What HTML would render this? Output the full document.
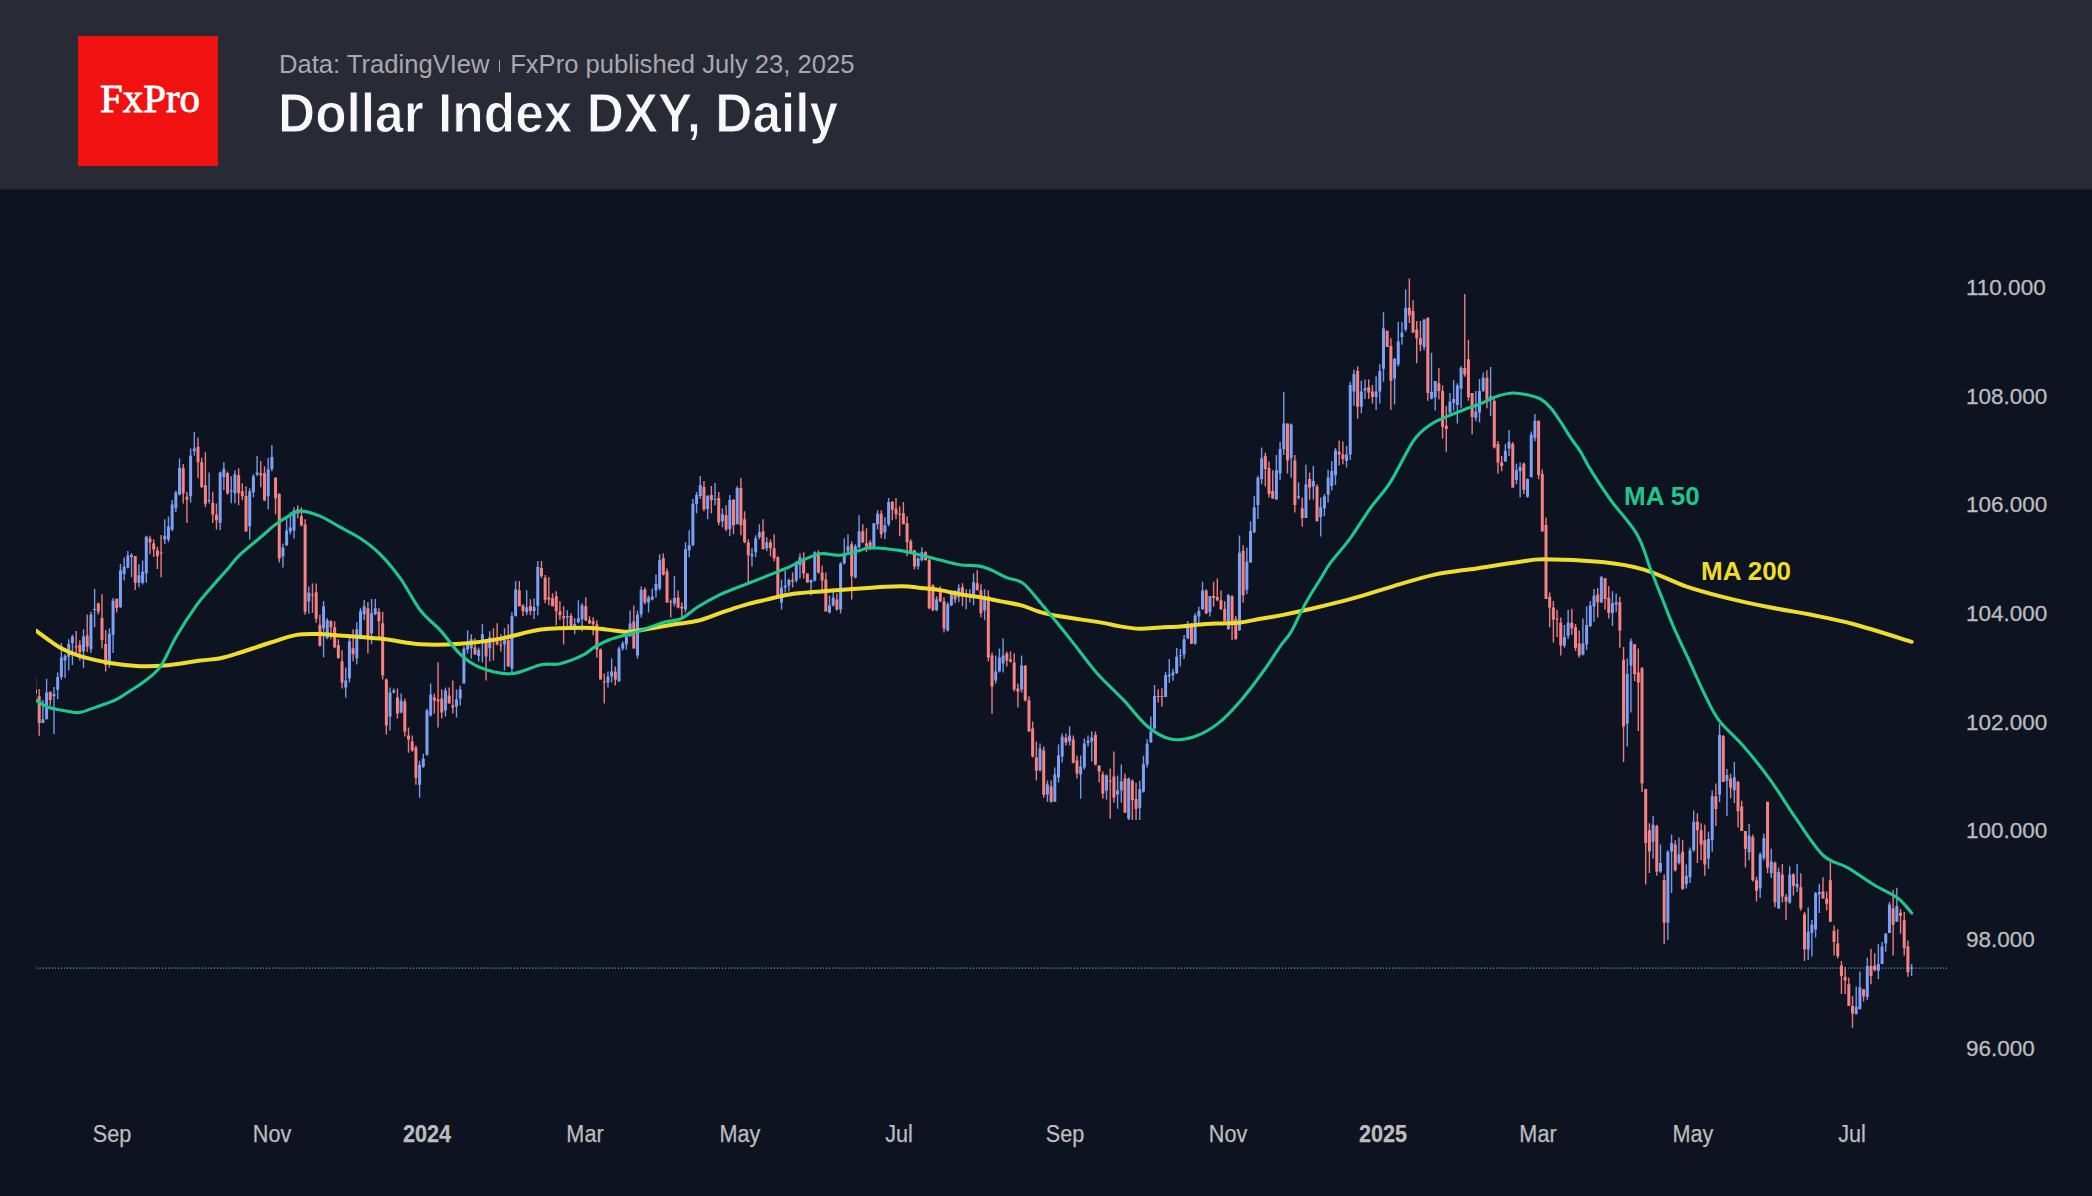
<!DOCTYPE html>
<html><head><meta charset="utf-8"><style>
html,body{margin:0;padding:0;}
body{width:2092px;height:1196px;overflow:hidden;background:#0d1321;position:relative;font-family:"Liberation Sans",sans-serif;}
#hdr{position:absolute;left:0;top:0;width:2092px;height:189px;background:#282a36;border-bottom:1px solid #1b1e2b;}
#logo{position:absolute;left:78px;top:36px;width:140px;height:130px;background:#f21111;}
#logo span{position:absolute;left:2px;width:140px;top:0;line-height:126px;text-align:center;font-family:"Liberation Serif",serif;font-size:39px;color:#fff;-webkit-text-stroke:0.8px #fff;transform:scaleX(1.05);}
#sub{position:absolute;left:279px;top:47px;font-size:25.6px;color:#a9a9ab;white-space:nowrap;line-height:34px;}
#sub i{display:inline-block;width:1.6px;height:12px;background:#a9a9ab;margin:0 10px 0px 9px;vertical-align:1px;}
#ttl{position:absolute;left:278px;top:80px;font-size:55px;font-weight:bold;color:#f8f8f8;white-space:nowrap;line-height:66px;transform:scaleX(0.935);transform-origin:0 0;-webkit-text-stroke:1px #282a36;}
.yl{position:absolute;left:1966px;font-size:22.5px;color:#bcbcbc;line-height:26px;white-space:nowrap;-webkit-text-stroke:0.3px #bcbcbc;}
.xl{position:absolute;top:1120.5px;width:100px;text-align:center;font-size:23.5px;color:#bdbdbd;line-height:26px;transform:scaleX(0.92);-webkit-text-stroke:0.25px #bdbdbd;}
.xl.b{font-weight:bold;}
.ma{position:absolute;font-size:26px;font-weight:bold;line-height:30px;white-space:nowrap;}
</style></head><body>
<div id="hdr"><div id="logo"><span>FxPro</span></div>
<div id="sub">Data: TradingVIew<i></i>FxPro published July 23, 2025</div>
<div id="ttl">Dollar Index DXY, Daily</div></div>
<svg width="2092" height="1006" viewBox="0 190 2092 1006" style="position:absolute;left:0;top:190px">
<defs><clipPath id="cp"><rect x="36" y="190" width="1915" height="900"/></clipPath></defs>
<g clip-path="url(#cp)">
<path d="M36.5,968.2H1948" stroke="#7ba0f4" stroke-width="1.3" stroke-dasharray="1.1 1.96" fill="none" opacity="1"/>
<path d="M42.90,699.9V722.9M46.59,678.8V719.2M53.98,687.1V733.9M57.67,672.4V699.0M61.36,642.9V679.7M65.06,654.0V677.9M68.75,639.3V670.5M72.44,634.7V665.0M83.52,629.2V667.8M90.91,611.7V653.1M94.60,588.7V627.3M109.37,628.2V667.8M113.07,597.9V653.1M120.45,563.9V608.0M124.15,557.5V580.4M127.84,551.0V568.5M131.53,553.3V577.2M138.92,564.3V587.3M142.61,560.6V584.5M146.30,535.8V582.7M164.77,519.3V544.1M168.46,516.5V542.2M172.16,500.0V531.2M175.85,490.8V511.9M179.54,458.6V495.4M190.62,448.5V502.7M194.31,431.9V455.8M209.09,472.4V503.6M220.17,471.5V530.3M223.86,462.3V489.9M231.25,476.2V503.3M234.94,470.2V503.3M249.71,488.2V539.4M253.40,474.2V497.3M257.10,456.1V476.2M268.18,458.1V509.3M271.87,445.1V471.2M282.95,543.4V567.5M286.64,517.3V545.4M290.34,512.3V534.4M294.03,507.3V538.4M308.80,586.6V613.7M323.57,601.1V657.3M327.27,618.2V639.3M345.73,667.4V697.5M349.42,636.3V682.4M356.81,622.2V664.4M360.50,608.2V639.3M364.20,600.1V620.2M371.58,599.1V644.3M375.28,599.1V615.2M390.05,687.4V730.6M393.74,688.4V693.5M401.13,693.5V713.5M419.59,760.7V797.8M423.29,753.7V767.7M426.98,708.5V755.7M430.67,683.5V716.6M445.45,687.5V716.6M456.52,689.5V717.6M460.22,685.5V705.6M463.91,646.4V683.5M467.60,630.3V653.4M471.30,634.3V658.4M478.68,647.4V661.4M482.38,624.3V662.4M489.76,631.3V661.4M504.53,628.3V670.4M511.92,612.2V673.5M515.61,581.1V616.3M526.69,590.2V615.3M534.08,598.6V619.1M537.77,561.1V615.3M567.32,610.2V626.3M574.70,618.3V634.3M578.40,600.2V623.3M582.09,603.2V631.3M607.94,671.4V687.5M611.63,658.4V682.5M619.02,646.4V681.5M622.71,641.3V650.4M626.41,633.3V649.4M630.10,610.5V636.6M637.49,610.5V658.7M641.18,586.4V617.5M648.57,595.5V612.5M652.26,588.4V600.5M655.95,574.4V597.5M659.65,554.3V590.4M674.42,576.0V606.5M685.50,542.3V612.5M689.19,530.2V557.3M692.88,499.1V546.3M696.58,492.1V513.2M700.27,476.1V499.1M707.66,495.1V519.2M715.04,483.1V505.2M722.43,508.2V527.2M729.81,495.1V536.3M737.20,486.1V524.2M751.97,548.3V566.4M755.67,535.3V557.3M759.36,524.2V539.3M766.75,537.3V551.3M781.52,579.4V609.5M785.21,570.4V592.5M788.90,578.4V591.4M796.29,561.3V582.4M799.98,553.3V578.4M811.06,579.4V595.5M814.76,551.3V581.4M829.53,595.5V613.5M833.22,588.4V606.5M840.61,562.3V613.5M844.30,538.3V564.4M847.99,534.3V553.3M855.38,544.3V578.4M859.07,515.2V548.3M873.85,523.2V549.3M877.54,510.2V529.2M884.92,517.2V539.3M888.62,498.1V526.2M918.16,557.3V569.4M921.86,547.3V561.3M936.63,596.3V611.3M947.71,602.3V631.4M951.40,591.2V606.3M958.79,584.2V602.3M966.17,589.2V609.3M973.56,573.2V605.3M984.64,589.2V620.3M995.72,655.5V683.6M999.41,648.4V672.5M1003.10,638.4V672.5M1021.57,655.5V692.6M1040.03,743.5V771.6M1047.42,780.6V801.7M1054.81,767.6V801.7M1058.50,744.5V782.6M1062.19,733.5V762.6M1069.58,726.4V745.5M1080.66,755.5V798.7M1084.35,738.5V769.6M1088.04,735.5V746.5M1091.74,731.4V761.5M1106.51,774.6V799.7M1117.59,775.6V808.7M1121.28,764.6V802.7M1128.67,777.4V820.0M1139.75,780.7V820.0M1143.44,755.7V792.6M1147.13,739.3V767.6M1150.83,716.5V742.6M1154.52,685.0V729.6M1165.60,672.0V697.0M1169.29,658.9V682.8M1172.99,668.7V680.7M1176.68,648.0V674.1M1180.37,649.1V666.5M1184.07,635.0V658.9M1187.76,620.9V639.3M1195.14,613.3V644.8M1198.84,606.7V623.0M1202.53,581.7V610.0M1209.92,595.9V616.5M1228.38,594.1V630.0M1239.46,535.4V631.1M1246.85,547.4V594.1M1250.54,521.3V562.6M1254.23,496.3V533.3M1257.93,475.7V519.1M1261.62,447.4V484.3M1276.39,455.0V499.6M1280.09,442.0V480.0M1283.78,392.0V455.0M1291.17,423.5V477.8M1298.55,482.2V499.6M1305.94,464.8V518.0M1313.32,465.9V499.6M1320.71,497.4V536.5M1324.40,494.1V515.9M1328.10,469.8V502.4M1331.79,461.1V490.4M1335.48,448.0V485.0M1346.56,445.9V467.6M1350.25,381.7V460.0M1353.95,369.8V405.7M1361.33,380.7V413.3M1365.03,379.6V399.1M1376.11,376.3V410.0M1379.80,364.3V403.5M1383.49,312.2V381.7M1394.57,357.8V404.6M1398.27,322.0V366.5M1401.96,322.0V344.8M1405.65,289.3V331.7M1424.12,318.7V350.2M1431.50,352.8V399.6M1435.20,381.1V410.4M1449.97,393.0V414.8M1453.66,380.0V410.4M1457.35,383.3V423.5M1461.05,365.9V408.3M1475.82,390.9V421.3M1479.51,378.9V422.4M1483.21,372.4V392.0M1490.59,367.0V415.9M1505.37,444.1V461.5M1509.06,430.0V456.1M1516.44,463.7V484.3M1520.14,462.6V497.4M1527.52,478.3V497.8M1531.22,431.5V477.2M1534.91,414.1V441.3M1564.45,625.0V647.8M1568.15,609.8V639.1M1582.92,618.5V655.4M1586.61,606.5V650.0M1590.31,601.1V627.2M1594.00,589.1V621.7M1601.39,576.1V603.3M1612.46,591.3V626.1M1616.16,593.5V612.0M1627.24,658.4V746.5M1630.93,638.5V712.4M1653.09,816.1V858.8M1660.48,844.6V873.0M1667.86,850.2V939.8M1671.55,834.6V892.9M1678.94,837.5V864.5M1686.33,864.5V888.6M1690.02,847.4V882.9M1693.71,810.4V851.7M1708.49,831.8V868.7M1712.18,790.6V851.7M1719.56,723.8V801.9M1726.95,769.1V815.9M1734.34,762.0V803.0M1749.11,824.1V860.4M1760.19,852.2V897.8M1763.88,833.5V860.4M1771.27,848.7V877.9M1778.65,867.4V908.4M1789.73,866.2V903.7M1797.12,863.9V892.0M1808.20,907.2V959.9M1811.89,920.1V956.4M1815.59,892.0V937.6M1819.28,883.8V913.1M1856.21,986.4V1014.3M1859.90,971.4V1009.8M1867.29,957.8V1000.0M1878.37,944.3V978.9M1882.06,942.0V963.9M1885.75,933.0V951.8M1889.45,902.1V933.0M1896.83,887.8V921.7M1911.61,963.9V975.9" stroke="#7ba0f4" stroke-width="1.4" fill="none" opacity="0.95"/>
<path d="M35.51,676.9V698.1M39.20,688.9V735.8M50.28,691.7V705.4M76.14,631.0V654.9M79.83,640.2V660.4M87.21,614.4V652.1M98.29,602.5V614.4M101.99,594.2V648.5M105.68,630.1V671.4M116.76,598.8V612.6M135.22,556.0V590.0M150.00,535.8V554.2M153.69,539.5V556.9M157.38,546.8V568.9M161.08,534.9V577.2M183.24,464.1V503.6M186.93,491.7V522.9M198.01,437.5V477.9M201.70,457.7V488.0M205.39,452.2V507.3M212.78,491.7V522.9M216.47,503.6V529.4M227.55,471.5V494.4M238.63,468.2V505.3M242.32,483.2V500.3M246.02,486.2V531.4M260.79,461.1V487.2M264.48,466.2V501.3M275.56,477.2V514.3M279.26,493.2V562.5M297.72,505.3V518.3M301.41,507.3V526.4M305.11,519.3V614.7M312.49,583.6V612.7M316.19,583.6V622.7M319.88,614.7V646.8M330.96,620.2V639.3M334.65,621.2V648.3M338.35,639.3V658.3M342.04,650.3V688.4M353.12,629.2V661.3M367.89,602.1V653.3M378.97,608.2V640.3M382.66,611.8V679.4M386.36,678.4V734.6M397.44,688.4V718.5M404.82,698.5V736.6M408.51,727.6V752.7M412.21,735.6V751.7M415.90,745.6V784.8M434.37,693.5V713.6M438.06,662.4V727.6M441.75,689.5V718.6M449.14,687.5V703.6M452.83,680.5V713.6M474.99,638.3V654.4M486.07,639.3V680.5M493.46,628.3V660.4M497.15,623.3V645.4M500.84,634.3V651.4M508.23,624.3V666.4M519.31,581.1V606.2M523.00,604.2V616.3M530.39,599.2V615.3M541.47,561.1V578.1M545.16,575.1V603.2M548.85,577.1V605.2M552.55,593.2V606.2M556.24,591.2V625.3M559.93,601.2V620.3M563.62,606.2V644.4M571.01,613.2V628.3M585.78,597.2V621.3M589.48,616.3V624.3M593.17,617.3V635.3M596.86,620.3V657.4M600.56,648.4V679.5M604.25,673.5V703.6M615.33,666.4V685.5M633.79,605.5V648.6M644.87,587.4V604.5M663.34,553.3V575.4M667.03,568.4V602.5M670.72,599.5V617.5M678.11,590.4V608.5M681.80,602.5V619.5M703.96,481.1V511.2M711.35,486.1V513.2M718.73,492.1V525.2M726.12,505.2V531.2M733.51,499.1V534.3M740.89,478.1V535.3M744.59,511.2V543.3M748.28,539.3V584.4M763.05,519.2V549.3M770.44,539.3V556.3M774.13,534.3V561.3M777.82,556.3V598.5M792.60,572.4V587.4M803.68,552.3V578.4M807.37,573.4V582.4M818.45,550.3V573.4M822.14,565.4V593.5M825.83,572.4V611.5M836.91,593.5V610.5M851.69,541.3V599.5M862.77,524.2V543.3M866.46,528.2V552.3M870.15,540.3V550.3M881.23,510.2V538.3M892.31,501.1V520.2M896.00,498.1V519.2M899.70,506.2V536.3M903.39,502.1V524.2M907.08,516.2V556.3M910.78,539.3V553.3M914.47,550.3V569.4M925.55,551.3V560.3M929.24,559.1V609.3M932.93,584.2V611.3M940.32,586.2V602.3M944.01,597.3V632.4M955.09,590.2V603.3M962.48,583.2V606.3M969.87,589.2V602.3M977.25,570.2V590.2M980.94,584.2V617.3M988.33,590.2V661.5M992.02,652.5V713.7M1006.80,651.4V666.5M1010.49,651.4V662.5M1014.18,653.5V691.6M1017.88,683.6V707.6M1025.26,665.5V701.6M1028.96,696.3V731.4M1032.65,721.4V757.5M1036.34,741.5V780.6M1043.73,746.5V797.7M1051.11,780.6V802.7M1065.89,733.5V745.5M1073.27,735.5V763.6M1076.97,755.5V778.6M1095.43,731.4V765.6M1099.12,765.6V782.6M1102.82,771.6V798.7M1110.20,768.6V818.7M1113.90,751.5V802.7M1124.98,773.6V812.7M1132.36,779.6V820.0M1136.06,782.8V820.0M1158.21,689.3V702.4M1161.91,688.3V706.7M1191.45,623.0V643.7M1206.22,589.3V614.3M1213.61,581.7V606.7M1217.30,578.5V601.3M1221.00,590.4V610.0M1224.69,601.3V620.9M1232.08,595.2V640.0M1235.77,615.9V640.0M1243.15,545.2V602.8M1265.31,452.8V486.5M1269.01,461.5V497.4M1272.70,470.2V498.5M1287.47,423.5V473.5M1294.86,455.0V512.6M1302.24,497.4V526.7M1309.63,472.4V499.6M1317.02,484.3V521.3M1339.18,440.4V465.4M1342.87,441.5V464.3M1357.64,366.5V418.7M1368.72,379.6V399.1M1372.41,385.0V403.5M1387.19,330.7V347.0M1390.88,338.3V410.0M1409.34,278.5V323.0M1413.04,300.2V332.8M1416.73,320.9V363.3M1420.42,320.9V351.3M1427.81,317.0V400.7M1438.89,368.0V399.6M1442.58,385.4V438.7M1446.28,406.1V451.7M1464.74,294.1V376.7M1468.43,339.8V400.7M1472.13,393.0V434.3M1486.90,370.2V408.3M1494.29,396.3V448.5M1497.98,440.9V473.5M1501.67,456.1V471.3M1512.75,442.0V487.6M1523.83,462.6V494.1M1538.60,420.7V479.3M1542.30,469.6V531.5M1545.99,517.4V598.9M1549.68,592.4V627.2M1553.38,601.1V642.4M1557.07,609.8V637.0M1560.76,617.4V655.4M1571.84,608.7V634.8M1575.53,623.9V651.1M1579.23,630.4V657.6M1597.69,588.0V617.4M1605.08,578.3V609.8M1608.77,585.9V618.5M1619.85,596.7V647.8M1623.54,647.0V762.1M1634.62,644.2V681.1M1638.32,648.4V730.9M1642.01,666.9V792.0M1645.70,789.1V884.4M1649.40,823.2V873.0M1656.78,824.7V875.8M1664.17,874.4V944.0M1675.25,840.3V871.6M1682.63,840.3V890.0M1697.41,813.3V863.0M1701.10,823.2V860.2M1704.79,824.7V875.8M1715.87,783.4V826.1M1723.26,735.1V781.9M1730.64,773.8V798.3M1738.03,780.8V827.6M1741.72,800.7V831.1M1745.42,831.1V867.4M1752.80,834.6V881.5M1756.50,876.8V901.4M1767.58,801.8V873.3M1774.96,861.6V907.2M1782.35,863.9V902.5M1786.04,894.3V920.1M1793.43,873.3V895.5M1800.81,873.3V910.7M1804.51,911.9V961.1M1822.97,877.3V898.4M1826.66,891.6V910.4M1830.36,862.3V921.7M1834.05,925.5V955.6M1837.74,929.2V958.6M1841.44,960.9V994.0M1845.13,966.9V994.0M1848.82,977.4V1006.0M1852.52,996.2V1027.8M1863.60,988.7V1001.5M1870.98,948.8V984.2M1874.68,953.3V971.4M1893.14,890.1V955.6M1900.53,908.9V933.8M1904.22,911.9V955.6M1907.91,940.5V976.7" stroke="#f88282" stroke-width="1.4" fill="none" opacity="0.95"/>
<path d="M41.40,719.2h3v3.7h-3zM45.09,692.6h3v26.7h-3zM52.48,694.0h3v2.2h-3zM56.17,676.9h3v12.9h-3zM59.86,657.6h3v19.3h-3zM63.56,655.8h3v4.6h-3zM67.25,643.9h3v12.9h-3zM70.94,636.5h3v6.4h-3zM82.02,636.5h3v14.7h-3zM89.41,614.4h3v34.9h-3zM93.10,608.9h3v1.0h-3zM107.87,633.8h3v29.4h-3zM111.57,600.7h3v34.0h-3zM118.95,570.3h3v36.8h-3zM122.65,566.7h3v7.4h-3zM126.34,555.6h3v11.9h-3zM130.03,555.1h3v1.8h-3zM137.42,575.3h3v7.4h-3zM141.11,571.7h3v11.0h-3zM144.80,536.7h3v36.8h-3zM163.27,535.8h3v3.7h-3zM166.96,526.6h3v12.9h-3zM170.66,504.6h3v24.8h-3zM174.35,492.6h3v15.6h-3zM178.04,467.8h3v26.7h-3zM189.12,455.8h3v40.4h-3zM192.81,448.5h3v2.8h-3zM207.59,500.0h3v1.0h-3zM218.67,472.4h3v50.6h-3zM222.36,468.7h3v8.3h-3zM229.75,490.2h3v1.4h-3zM233.44,474.2h3v19.1h-3zM248.21,491.2h3v35.1h-3zM251.90,476.2h3v16.1h-3zM255.60,472.6h3v2.0h-3zM266.68,469.2h3v27.1h-3zM270.37,457.1h3v12.0h-3zM281.45,547.4h3v9.0h-3zM285.14,530.4h3v15.1h-3zM288.84,527.4h3v4.0h-3zM292.53,510.3h3v20.1h-3zM307.30,592.6h3v9.0h-3zM322.07,606.2h3v22.1h-3zM325.77,620.2h3v18.1h-3zM344.23,680.4h3v7.0h-3zM347.92,641.3h3v37.1h-3zM355.31,629.2h3v29.1h-3zM359.00,611.2h3v27.1h-3zM362.70,606.2h3v8.0h-3zM370.08,613.2h3v20.1h-3zM373.78,608.2h3v6.0h-3zM388.55,692.5h3v24.1h-3zM392.24,690.4h3v2.0h-3zM399.63,700.5h3v12.0h-3zM418.09,764.7h3v20.1h-3zM421.79,758.7h3v8.0h-3zM425.48,710.5h3v44.2h-3zM429.17,694.5h3v21.1h-3zM443.95,690.5h3v20.1h-3zM455.02,699.5h3v7.0h-3zM458.72,689.5h3v9.0h-3zM462.41,648.4h3v35.1h-3zM466.10,643.4h3v6.0h-3zM469.80,639.3h3v9.0h-3zM477.18,650.0h3v6.0h-3zM480.88,634.3h3v9.0h-3zM488.26,637.3h3v11.0h-3zM503.03,640.3h3v4.0h-3zM510.42,616.3h3v52.2h-3zM514.11,589.2h3v27.1h-3zM525.19,607.2h3v5.0h-3zM532.58,607.0h3v4.0h-3zM536.27,567.1h3v38.7h-3zM565.82,615.9h3v1.4h-3zM573.20,623.9h3v2.8h-3zM576.90,618.3h3v4.0h-3zM580.59,605.2h3v14.0h-3zM606.44,676.5h3v6.0h-3zM610.13,671.4h3v5.0h-3zM617.52,648.4h3v33.1h-3zM621.21,643.4h3v5.0h-3zM624.91,636.3h3v8.0h-3zM628.60,623.6h3v13.0h-3zM635.99,614.5h3v41.1h-3zM639.68,590.0h3v24.5h-3zM647.07,597.5h3v5.0h-3zM650.76,596.5h3v3.0h-3zM654.45,584.0h3v6.4h-3zM658.15,560.3h3v28.1h-3zM672.92,598.1h3v5.4h-3zM684.00,549.3h3v60.2h-3zM687.69,545.3h3v5.0h-3zM691.38,503.7h3v41.5h-3zM695.08,495.1h3v9.0h-3zM698.77,485.1h3v11.0h-3zM706.16,496.1h3v13.0h-3zM713.54,499.1h3v1.0h-3zM720.93,514.2h3v7.0h-3zM728.31,500.1h3v29.1h-3zM735.70,488.1h3v36.1h-3zM750.47,554.3h3v2.0h-3zM754.17,538.3h3v14.0h-3zM757.86,532.2h3v5.0h-3zM765.25,542.3h3v6.0h-3zM780.02,587.4h3v15.1h-3zM783.71,585.4h3v2.0h-3zM787.40,580.0h3v5.4h-3zM794.79,563.4h3v17.1h-3zM798.48,557.3h3v8.0h-3zM809.56,580.0h3v2.4h-3zM813.26,552.3h3v28.1h-3zM828.03,605.5h3v7.0h-3zM831.72,597.5h3v8.0h-3zM839.11,563.4h3v46.2h-3zM842.80,553.3h3v10.0h-3zM846.49,546.3h3v5.0h-3zM853.88,546.3h3v31.1h-3zM857.57,531.2h3v16.1h-3zM872.35,523.2h3v26.1h-3zM876.04,513.8h3v10.4h-3zM883.42,525.2h3v7.0h-3zM887.12,502.1h3v22.1h-3zM916.66,558.3h3v8.0h-3zM920.36,552.3h3v8.0h-3zM935.13,599.3h3v11.0h-3zM946.21,604.3h3v26.1h-3zM949.90,593.2h3v12.0h-3zM957.29,588.2h3v9.0h-3zM964.67,593.2h3v3.0h-3zM972.06,582.2h3v14.0h-3zM983.14,596.3h3v14.0h-3zM994.22,671.5h3v9.0h-3zM997.91,657.5h3v14.0h-3zM1001.60,655.5h3v8.0h-3zM1020.07,665.5h3v24.1h-3zM1038.53,748.5h3v22.1h-3zM1045.92,784.6h3v10.0h-3zM1053.31,774.6h3v27.1h-3zM1057.00,755.5h3v22.1h-3zM1060.69,736.5h3v20.1h-3zM1068.08,735.5h3v6.0h-3zM1079.16,766.6h3v8.0h-3zM1082.85,743.5h3v24.1h-3zM1086.54,740.5h3v2.4h-3zM1090.24,737.5h3v4.0h-3zM1105.01,775.6h3v15.1h-3zM1116.09,790.6h3v4.0h-3zM1119.78,781.6h3v9.0h-3zM1127.17,778.5h3v40.2h-3zM1138.25,789.3h3v18.5h-3zM1141.94,764.3h3v27.2h-3zM1145.63,743.7h3v20.7h-3zM1149.33,731.7h3v10.9h-3zM1153.02,695.9h3v32.6h-3zM1164.10,675.2h3v21.7h-3zM1167.79,674.8h3v1.5h-3zM1171.49,672.6h3v2.6h-3zM1175.18,656.7h3v16.3h-3zM1178.87,655.2h3v1.0h-3zM1182.57,639.3h3v15.2h-3zM1186.26,626.3h3v12.0h-3zM1193.64,615.4h3v28.3h-3zM1197.34,611.1h3v5.4h-3zM1201.03,590.4h3v18.5h-3zM1208.42,595.9h3v16.3h-3zM1226.88,595.2h3v33.7h-3zM1237.96,552.8h3v77.2h-3zM1245.35,561.5h3v28.3h-3zM1249.04,531.1h3v31.5h-3zM1252.73,507.2h3v25.0h-3zM1256.43,477.8h3v27.2h-3zM1260.12,458.3h3v20.7h-3zM1274.89,470.2h3v29.3h-3zM1278.59,449.1h3v24.3h-3zM1282.28,423.5h3v25.7h-3zM1289.67,424.6h3v33.7h-3zM1297.05,496.3h3v1.1h-3zM1304.44,484.3h3v33.7h-3zM1311.82,481.1h3v5.4h-3zM1319.21,507.2h3v9.8h-3zM1322.90,496.3h3v12.0h-3zM1326.60,477.4h3v17.4h-3zM1330.29,470.9h3v15.2h-3zM1333.98,450.2h3v25.0h-3zM1345.06,454.6h3v6.5h-3zM1348.75,385.0h3v69.6h-3zM1352.45,374.1h3v17.4h-3zM1359.83,391.5h3v15.2h-3zM1363.53,388.3h3v2.2h-3zM1374.61,391.5h3v5.4h-3zM1378.30,370.9h3v20.7h-3zM1381.99,328.5h3v40.2h-3zM1393.07,358.9h3v19.6h-3zM1396.77,341.5h3v22.8h-3zM1400.46,332.8h3v4.3h-3zM1404.15,307.8h3v21.7h-3zM1422.62,319.8h3v27.2h-3zM1430.00,392.0h3v6.5h-3zM1433.70,381.1h3v16.3h-3zM1448.47,401.7h3v10.9h-3zM1452.16,399.1h3v3.7h-3zM1455.85,385.4h3v19.6h-3zM1459.55,368.0h3v20.7h-3zM1474.32,411.5h3v6.5h-3zM1478.01,390.9h3v21.7h-3zM1481.71,377.8h3v13.0h-3zM1489.09,396.3h3v2.2h-3zM1503.87,450.7h3v10.9h-3zM1507.56,442.0h3v6.5h-3zM1514.94,470.2h3v9.8h-3zM1518.64,467.0h3v4.3h-3zM1526.02,479.3h3v17.4h-3zM1529.72,434.8h3v42.4h-3zM1533.41,420.7h3v17.4h-3zM1562.95,637.0h3v8.7h-3zM1566.65,622.8h3v13.0h-3zM1581.42,643.5h3v10.9h-3zM1585.11,625.0h3v19.6h-3zM1588.81,605.4h3v20.7h-3zM1592.50,595.7h3v10.9h-3zM1599.89,577.2h3v25.0h-3zM1610.96,603.3h3v9.8h-3zM1614.66,602.2h3v2.2h-3zM1625.74,674.0h3v49.7h-3zM1629.43,641.3h3v24.2h-3zM1651.59,824.7h3v17.1h-3zM1658.98,863.0h3v8.5h-3zM1666.36,851.7h3v71.1h-3zM1670.05,843.1h3v8.5h-3zM1677.44,854.5h3v8.5h-3zM1684.83,875.8h3v8.5h-3zM1688.52,850.2h3v27.0h-3zM1692.21,821.8h3v28.4h-3zM1706.99,838.9h3v19.9h-3zM1710.68,796.2h3v44.1h-3zM1718.06,735.1h3v59.7h-3zM1725.45,774.9h3v5.9h-3zM1732.84,777.3h3v12.9h-3zM1747.61,835.8h3v16.4h-3zM1758.69,854.5h3v33.9h-3zM1762.38,838.1h3v19.9h-3zM1769.77,861.6h3v11.7h-3zM1777.15,872.1h3v36.3h-3zM1788.23,874.4h3v28.1h-3zM1795.62,883.8h3v3.5h-3zM1806.70,931.8h3v17.6h-3zM1810.39,924.8h3v8.2h-3zM1814.09,893.2h3v36.3h-3zM1817.78,892.0h3v2.3h-3zM1854.71,1006.8h3v7.5h-3zM1858.40,987.2h3v21.8h-3zM1865.79,966.1h3v30.9h-3zM1876.87,963.9h3v6.8h-3zM1880.56,946.6h3v17.3h-3zM1884.25,933.8h3v9.8h-3zM1887.95,904.4h3v28.6h-3zM1895.33,905.9h3v15.8h-3zM1910.11,967.6h3v1.0h-3z" fill="#7ba0f4"/>
<path d="M34.01,689.8h3v3.7h-3zM37.70,696.2h3v26.7h-3zM48.78,691.7h3v8.3h-3zM74.64,646.2h3v1.3h-3zM78.33,644.8h3v7.4h-3zM85.71,635.6h3v11.0h-3zM96.79,603.4h3v8.3h-3zM100.49,618.1h3v22.1h-3zM104.18,643.9h3v21.1h-3zM115.26,598.8h3v9.2h-3zM133.72,556.0h3v26.7h-3zM148.50,538.6h3v3.7h-3zM152.19,543.5h3v6.1h-3zM155.88,550.5h3v5.5h-3zM159.58,552.4h3v1.0h-3zM181.74,468.2h3v25.4h-3zM185.43,496.8h3v2.6h-3zM196.51,446.7h3v15.6h-3zM200.20,462.3h3v24.8h-3zM203.89,485.3h3v18.4h-3zM211.28,502.7h3v11.9h-3zM214.97,514.7h3v5.5h-3zM226.05,473.3h3v20.2h-3zM237.13,475.2h3v18.1h-3zM240.82,491.2h3v5.0h-3zM244.52,495.9h3v35.5h-3zM259.29,473.2h3v2.0h-3zM262.98,473.2h3v27.1h-3zM274.06,477.8h3v20.5h-3zM277.76,493.9h3v64.6h-3zM296.22,509.3h3v4.0h-3zM299.91,516.3h3v9.0h-3zM303.61,524.4h3v87.3h-3zM310.99,594.6h3v1.0h-3zM314.69,592.2h3v26.5h-3zM318.38,624.7h3v21.1h-3zM329.46,621.2h3v6.0h-3zM333.15,627.2h3v20.1h-3zM336.85,645.3h3v13.0h-3zM340.54,661.3h3v21.1h-3zM351.62,648.3h3v6.0h-3zM366.39,608.2h3v30.1h-3zM377.47,611.8h3v9.4h-3zM381.16,623.2h3v52.2h-3zM384.86,679.4h3v46.2h-3zM395.94,697.5h3v16.1h-3zM403.32,701.5h3v30.1h-3zM407.01,735.6h3v4.0h-3zM410.71,741.6h3v9.0h-3zM414.40,747.6h3v30.1h-3zM432.87,697.5h3v3.0h-3zM436.56,699.5h3v2.0h-3zM440.25,698.5h3v14.0h-3zM447.64,695.5h3v8.0h-3zM451.33,705.6h3v2.0h-3zM473.49,647.4h3v7.0h-3zM484.57,639.3h3v17.1h-3zM491.96,638.3h3v4.0h-3zM495.65,641.3h3v3.0h-3zM499.34,644.4h3v1.0h-3zM506.73,640.3h3v26.1h-3zM517.81,590.2h3v16.1h-3zM521.50,605.2h3v6.0h-3zM528.89,606.0h3v5.0h-3zM539.97,568.1h3v8.0h-3zM543.66,577.7h3v22.1h-3zM547.35,597.6h3v2.0h-3zM551.05,598.2h3v8.0h-3zM554.74,596.2h3v15.1h-3zM558.43,611.2h3v4.0h-3zM562.12,616.3h3v2.0h-3zM569.51,615.9h3v10.4h-3zM584.28,606.2h3v14.0h-3zM587.98,619.9h3v3.4h-3zM591.67,621.3h3v3.0h-3zM595.36,624.3h3v25.1h-3zM599.06,649.4h3v30.1h-3zM602.75,681.5h3v1.0h-3zM613.83,671.4h3v8.0h-3zM632.29,621.5h3v27.1h-3zM643.37,589.4h3v13.0h-3zM661.84,558.3h3v16.1h-3zM665.53,571.4h3v31.1h-3zM669.22,601.5h3v1.0h-3zM676.61,597.5h3v10.0h-3zM680.30,606.5h3v2.0h-3zM702.46,487.1h3v22.1h-3zM709.85,495.1h3v5.0h-3zM717.23,498.1h3v24.1h-3zM724.62,515.2h3v14.0h-3zM732.01,500.1h3v25.1h-3zM739.39,488.1h3v37.1h-3zM743.09,519.2h3v23.1h-3zM746.78,542.3h3v13.0h-3zM761.55,531.2h3v18.1h-3zM768.94,542.3h3v6.0h-3zM772.63,548.3h3v10.0h-3zM776.32,557.3h3v41.1h-3zM791.10,580.0h3v1.4h-3zM802.18,558.3h3v15.1h-3zM805.87,573.4h3v9.0h-3zM816.95,552.3h3v20.1h-3zM820.64,572.4h3v8.0h-3zM824.33,579.4h3v32.1h-3zM835.41,599.5h3v10.0h-3zM850.19,544.3h3v32.1h-3zM861.27,531.2h3v11.0h-3zM864.96,543.3h3v3.0h-3zM868.65,542.3h3v6.0h-3zM879.73,513.8h3v20.5h-3zM890.81,502.1h3v7.6h-3zM894.50,508.8h3v5.4h-3zM898.20,513.8h3v1.0h-3zM901.89,513.2h3v11.0h-3zM905.58,523.2h3v19.1h-3zM909.28,541.3h3v12.0h-3zM912.97,550.3h3v16.1h-3zM924.05,552.3h3v8.0h-3zM927.74,560.1h3v48.2h-3zM931.43,585.2h3v25.1h-3zM938.82,592.2h3v9.0h-3zM942.51,601.3h3v27.1h-3zM953.59,591.2h3v8.0h-3zM960.98,587.2h3v9.0h-3zM968.37,594.3h3v2.0h-3zM975.75,583.2h3v7.0h-3zM979.44,590.2h3v23.1h-3zM986.83,596.3h3v61.2h-3zM990.52,655.5h3v31.1h-3zM1005.30,653.5h3v7.0h-3zM1008.99,659.5h3v2.0h-3zM1012.68,662.5h3v27.1h-3zM1016.38,688.6h3v3.0h-3zM1023.76,665.5h3v35.1h-3zM1027.46,700.3h3v31.1h-3zM1031.15,728.4h3v28.1h-3zM1034.84,757.5h3v13.0h-3zM1042.23,750.5h3v44.2h-3zM1049.61,786.6h3v15.1h-3zM1064.39,737.5h3v5.0h-3zM1071.77,739.5h3v23.1h-3zM1075.47,760.5h3v13.0h-3zM1093.93,734.9h3v29.7h-3zM1097.62,765.6h3v6.0h-3zM1101.32,774.6h3v19.1h-3zM1108.70,780.6h3v1.0h-3zM1112.40,776.6h3v21.1h-3zM1123.48,778.6h3v34.1h-3zM1130.86,780.7h3v19.6h-3zM1134.56,799.1h3v9.8h-3zM1156.71,695.9h3v1.1h-3zM1160.41,695.9h3v1.1h-3zM1189.95,624.1h3v19.6h-3zM1204.72,590.4h3v22.8h-3zM1212.11,595.9h3v2.2h-3zM1215.80,597.0h3v3.3h-3zM1219.50,600.2h3v8.7h-3zM1223.19,608.9h3v12.0h-3zM1230.58,596.3h3v27.2h-3zM1234.27,619.1h3v19.6h-3zM1241.65,550.7h3v44.6h-3zM1263.81,456.1h3v13.0h-3zM1267.51,468.0h3v26.1h-3zM1271.20,490.9h3v7.6h-3zM1285.97,423.5h3v37.0h-3zM1293.36,460.4h3v44.6h-3zM1300.74,508.3h3v9.8h-3zM1308.13,478.9h3v8.7h-3zM1315.52,486.5h3v34.8h-3zM1337.68,451.7h3v2.8h-3zM1341.37,454.6h3v4.3h-3zM1356.14,370.9h3v35.9h-3zM1367.22,387.2h3v5.4h-3zM1370.91,391.5h3v5.4h-3zM1385.69,330.7h3v16.3h-3zM1389.38,345.9h3v34.8h-3zM1407.84,307.8h3v7.6h-3zM1411.54,311.1h3v21.7h-3zM1415.23,329.6h3v8.7h-3zM1418.92,338.3h3v6.5h-3zM1426.31,318.0h3v75.0h-3zM1437.39,383.3h3v7.6h-3zM1441.08,390.9h3v35.9h-3zM1444.78,425.7h3v3.3h-3zM1463.24,368.0h3v6.5h-3zM1466.93,359.3h3v38.0h-3zM1470.63,393.0h3v23.9h-3zM1485.40,377.8h3v22.8h-3zM1492.79,400.7h3v46.7h-3zM1496.48,444.1h3v18.5h-3zM1500.17,462.6h3v3.3h-3zM1511.25,444.1h3v43.5h-3zM1522.33,463.7h3v26.1h-3zM1537.10,420.7h3v54.3h-3zM1540.80,473.9h3v57.6h-3zM1544.49,525.0h3v73.9h-3zM1548.18,596.7h3v10.9h-3zM1551.88,607.6h3v12.0h-3zM1555.57,618.5h3v1.1h-3zM1559.26,622.8h3v22.8h-3zM1570.34,622.8h3v5.4h-3zM1574.03,627.2h3v20.7h-3zM1577.73,643.5h3v12.0h-3zM1596.19,594.6h3v7.6h-3zM1603.58,578.3h3v20.7h-3zM1607.27,597.8h3v15.2h-3zM1618.35,602.2h3v28.3h-3zM1622.04,659.8h3v66.8h-3zM1633.12,644.2h3v29.8h-3zM1636.82,672.6h3v9.9h-3zM1640.51,668.3h3v115.1h-3zM1644.20,789.1h3v54.0h-3zM1647.90,830.3h3v21.3h-3zM1655.28,826.1h3v45.5h-3zM1662.67,880.1h3v42.6h-3zM1673.75,844.6h3v25.6h-3zM1681.13,851.7h3v37.0h-3zM1695.91,821.8h3v8.5h-3zM1699.60,830.3h3v14.2h-3zM1703.29,840.3h3v24.2h-3zM1714.37,796.2h3v12.8h-3zM1721.76,736.3h3v45.7h-3zM1729.14,778.4h3v9.4h-3zM1736.53,781.9h3v29.3h-3zM1740.22,806.5h3v24.6h-3zM1743.92,831.1h3v17.6h-3zM1751.30,837.0h3v43.3h-3zM1755.00,880.3h3v10.5h-3zM1766.08,801.8h3v65.6h-3zM1773.46,862.7h3v39.8h-3zM1780.85,874.4h3v22.2h-3zM1784.54,896.7h3v4.7h-3zM1791.93,874.4h3v11.7h-3zM1799.31,887.3h3v21.1h-3zM1803.01,914.2h3v35.1h-3zM1821.47,891.6h3v6.8h-3zM1825.16,898.4h3v5.3h-3zM1828.86,880.3h3v41.4h-3zM1832.55,930.8h3v11.3h-3zM1836.24,943.5h3v12.8h-3zM1839.94,965.4h3v10.5h-3zM1843.63,976.7h3v3.8h-3zM1847.32,984.2h3v21.8h-3zM1851.02,1006.0h3v7.5h-3zM1862.10,989.5h3v6.8h-3zM1869.48,966.1h3v9.8h-3zM1873.18,965.4h3v4.5h-3zM1891.64,908.2h3v16.6h-3zM1899.03,912.7h3v3.0h-3zM1902.72,920.2h3v27.8h-3zM1906.41,946.6h3v25.6h-3z" fill="#f88282"/>
<path d="M35.6,630.4 C39.6,633.2 52.4,643.2 59.8,647.5 C67.2,651.8 71.6,653.6 80.0,656.2 C88.4,658.8 100.1,661.3 110.1,663.0 C120.1,664.7 131.2,665.8 140.2,666.2 C149.2,666.6 154.3,666.5 164.3,665.6 C174.3,664.7 191.0,661.8 200.4,660.6 C209.8,659.4 213.8,659.6 220.5,658.2 C227.2,656.9 232.2,655.1 240.5,652.5 C248.8,649.9 261.2,645.4 270.6,642.5 C280.0,639.6 288.5,636.3 296.7,634.9 C304.9,633.5 312.8,634.0 320.0,634.1 C327.2,634.2 330.1,634.9 340.2,635.6 C350.2,636.4 366.9,637.2 380.3,638.6 C393.7,640.0 407.1,643.4 420.5,644.3 C433.9,645.1 447.2,644.7 460.6,643.7 C474.0,642.8 487.4,641.0 500.8,638.6 C514.2,636.2 527.3,631.4 541.0,629.6 C554.7,627.8 572.1,627.7 582.9,627.7 C593.7,627.7 598.2,628.7 605.9,629.4 C613.5,630.1 621.1,631.9 628.8,631.7 C636.4,631.5 644.1,629.5 651.8,628.3 C659.4,627.0 667.1,625.5 674.7,624.2 C682.4,623.0 690.1,622.7 697.7,620.8 C705.4,618.9 713.0,615.4 720.6,612.8 C728.2,610.2 735.9,607.5 743.5,605.3 C751.1,603.1 758.9,601.4 766.5,599.6 C774.1,597.8 780.4,595.8 789.4,594.4 C798.4,593.0 808.6,592.4 820.5,591.4 C832.4,590.4 847.2,589.2 860.6,588.4 C874.0,587.5 890.8,586.4 900.8,586.3 C910.8,586.2 914.2,587.3 920.9,588.0 C927.6,588.7 934.3,589.3 941.0,590.4 C947.7,591.5 954.3,593.2 961.0,594.4 C967.7,595.6 974.4,596.2 981.1,597.4 C987.8,598.6 994.5,600.1 1001.2,601.4 C1007.9,602.7 1014.6,603.6 1021.3,605.4 C1028.0,607.2 1034.7,610.5 1041.4,612.4 C1048.1,614.2 1051.6,614.8 1061.4,616.5 C1071.2,618.2 1090.2,620.8 1100.0,622.4 C1109.8,624.0 1113.4,625.3 1120.1,626.4 C1126.8,627.5 1133.5,628.6 1140.2,628.8 C1146.9,629.0 1153.5,627.8 1160.2,627.4 C1166.9,627.0 1173.6,626.9 1180.3,626.4 C1187.0,625.9 1193.7,624.9 1200.4,624.4 C1207.1,623.9 1213.8,623.7 1220.5,623.4 C1227.2,623.1 1233.9,623.2 1240.6,622.4 C1247.3,621.6 1253.9,620.0 1260.6,618.8 C1267.3,617.6 1272.6,617.0 1280.7,615.4 C1288.8,613.8 1297.5,612.0 1309.2,609.3 C1320.9,606.5 1337.0,602.7 1351.0,598.9 C1365.0,595.1 1379.0,590.3 1392.9,586.3 C1406.9,582.2 1420.8,577.6 1434.7,574.6 C1448.7,571.6 1462.6,570.5 1476.6,568.4 C1490.5,566.3 1507.2,563.6 1518.4,562.1 C1529.6,560.6 1529.5,559.2 1543.5,559.2 C1557.5,559.2 1585.4,560.4 1602.1,562.1 C1618.8,563.8 1630.0,565.6 1643.9,569.6 C1657.9,573.6 1671.8,581.5 1685.8,586.3 C1699.8,591.0 1713.6,594.6 1727.6,598.1 C1741.5,601.6 1755.5,604.5 1769.5,607.3 C1783.5,610.1 1797.4,612.0 1811.3,614.8 C1825.2,617.6 1836.4,619.5 1853.1,624.0 C1869.8,628.5 1901.9,638.8 1911.7,641.8" stroke="#efdc2c" stroke-width="4" fill="none" stroke-linecap="round" stroke-linejoin="round"/>
<path d="M35.6,700.1 C37.7,701.3 43.0,705.3 48.4,707.2 C53.8,709.1 63.0,710.5 68.3,711.4 C73.6,712.3 74.7,713.3 80.0,712.4 C85.3,711.5 94.1,707.8 100.1,705.7 C106.1,703.6 111.1,702.2 116.1,699.7 C121.1,697.2 125.5,693.7 130.2,690.7 C134.9,687.7 139.2,685.5 144.2,681.5 C149.2,677.5 155.0,674.1 160.3,666.6 C165.7,659.1 170.3,646.7 176.3,636.5 C182.3,626.3 190.7,613.4 196.4,605.4 C202.1,597.4 205.4,594.4 210.4,588.5 C215.4,582.6 221.5,576.0 226.5,570.3 C231.5,564.6 234.8,559.7 240.5,554.2 C246.2,548.7 254.9,542.1 260.6,537.2 C266.3,532.4 270.4,528.5 274.7,525.1 C279.0,521.8 282.5,519.4 286.7,517.1 C290.9,514.8 294.4,511.3 300.0,511.1 C305.6,510.9 313.4,513.4 320.1,516.1 C326.8,518.8 333.5,523.5 340.2,527.2 C346.9,530.9 353.5,533.7 360.2,538.2 C366.9,542.7 373.6,547.6 380.3,554.3 C387.0,561.0 393.7,569.0 400.4,578.4 C407.1,587.8 413.8,601.8 420.5,610.5 C427.2,619.2 433.9,623.2 440.6,630.6 C447.3,638.0 453.9,648.5 460.6,654.7 C467.3,660.9 472.3,664.6 480.7,667.8 C489.1,671.0 500.8,674.3 510.8,673.8 C520.9,673.3 532.8,666.4 541.0,664.7 C549.2,663.0 553.0,665.4 560.0,663.8 C567.0,662.2 577.2,658.0 582.9,655.2 C588.6,652.4 590.0,649.8 594.4,647.2 C598.8,644.6 603.6,641.9 609.3,639.7 C615.0,637.5 623.6,635.5 628.8,634.0 C634.0,632.5 634.6,632.5 640.3,630.6 C646.0,628.7 656.3,624.5 663.2,622.5 C670.1,620.5 675.9,621.1 681.6,618.5 C687.4,615.9 691.2,611.0 697.7,607.0 C704.2,603.0 713.0,598.0 720.6,594.4 C728.2,590.8 735.9,588.2 743.5,585.2 C751.1,582.2 758.9,579.2 766.5,576.1 C774.1,573.0 783.8,569.4 789.4,566.9 C795.0,564.4 795.2,563.4 800.4,561.2 C805.6,559.0 813.8,554.8 820.5,553.8 C827.2,552.8 833.9,555.8 840.6,555.2 C847.3,554.6 855.6,551.4 860.6,550.2 C865.6,549.0 864.0,547.7 870.7,547.8 C877.4,547.9 892.4,549.4 900.8,550.6 C909.2,551.8 914.2,553.6 920.9,555.2 C927.6,556.8 934.5,558.6 941.0,560.2 C947.5,561.8 952.9,563.6 960.0,564.7 C967.1,565.8 975.6,564.9 983.4,567.0 C991.2,569.1 1000.2,574.9 1006.8,577.6 C1013.4,580.3 1017.4,578.9 1023.2,583.4 C1029.1,587.9 1036.8,598.6 1041.9,604.5 C1047.0,610.4 1048.5,612.3 1053.6,618.5 C1058.7,624.7 1066.6,634.5 1072.4,641.9 C1078.2,649.3 1084.0,657.1 1088.7,663.0 C1093.4,668.9 1094.5,670.8 1100.4,677.0 C1106.3,683.2 1116.1,692.2 1123.9,700.4 C1131.7,708.6 1139.5,719.8 1147.3,726.2 C1155.1,732.7 1162.9,737.4 1170.7,739.1 C1178.5,740.9 1186.3,739.2 1194.1,736.7 C1201.9,734.2 1209.7,730.0 1217.5,723.9 C1225.3,717.8 1233.1,709.4 1240.9,700.4 C1248.7,691.4 1257.8,679.0 1264.3,670.0 C1270.8,661.0 1275.6,652.9 1280.0,646.6 C1284.4,640.3 1287.3,638.1 1290.8,632.4 C1294.3,626.7 1297.5,618.8 1300.8,612.4 C1304.1,606.0 1307.4,600.0 1310.8,594.3 C1314.2,588.6 1317.6,583.6 1320.9,578.2 C1324.2,572.9 1326.1,568.8 1330.9,562.2 C1335.8,555.6 1343.5,547.6 1350.0,538.6 C1356.5,529.6 1363.4,517.9 1370.1,508.5 C1376.8,499.1 1383.0,493.7 1390.2,482.4 C1397.5,471.1 1406.9,450.2 1413.6,440.6 C1420.3,431.0 1424.7,428.7 1430.3,424.7 C1435.9,420.7 1441.5,418.9 1447.1,416.4 C1452.7,413.9 1458.2,411.8 1463.8,409.7 C1469.4,407.6 1474.9,406.0 1480.5,403.8 C1486.1,401.6 1491.6,398.1 1497.2,396.3 C1502.8,394.5 1508.4,393.1 1513.9,393.0 C1519.4,392.9 1525.5,394.5 1530.0,395.5 C1534.5,396.5 1537.3,397.0 1540.8,399.1 C1544.3,401.2 1547.5,404.2 1550.8,408.1 C1554.1,412.0 1557.4,417.2 1560.8,422.2 C1564.2,427.2 1567.6,433.2 1570.9,438.2 C1574.2,443.2 1577.6,446.9 1580.9,452.3 C1584.2,457.7 1586.0,462.4 1591.0,470.4 C1596.0,478.4 1603.3,489.8 1611.0,500.5 C1618.7,511.2 1630.4,522.9 1637.1,534.6 C1643.8,546.3 1646.9,559.9 1651.2,570.8 C1655.5,581.7 1659.1,590.7 1662.8,600.0 C1666.5,609.3 1669.0,616.5 1673.5,626.8 C1678.0,637.0 1684.2,649.9 1689.6,661.5 C1694.9,673.1 1700.7,686.5 1705.6,696.3 C1710.5,706.1 1712.8,712.1 1719.0,720.4 C1725.2,728.6 1734.6,736.0 1743.1,745.8 C1751.6,755.6 1761.0,767.0 1769.9,779.3 C1778.8,791.6 1787.7,806.7 1796.6,819.4 C1805.5,832.1 1814.9,847.5 1823.4,855.5 C1831.9,863.5 1839.0,862.7 1847.5,867.6 C1856.0,872.5 1865.7,879.9 1874.2,885.0 C1882.7,890.1 1892.0,893.7 1898.3,898.4 C1904.5,903.1 1909.5,910.6 1911.7,913.1" stroke="#1ec88a" stroke-width="3.1" fill="none" stroke-linecap="round" stroke-linejoin="round"/>
</g>
</svg>
<div class="yl" style="top:274.9px">110.000</div><div class="yl" style="top:383.6px">108.000</div><div class="yl" style="top:492.3px">106.000</div><div class="yl" style="top:600.9px">104.000</div><div class="yl" style="top:709.6px">102.000</div><div class="yl" style="top:818.3px">100.000</div><div class="yl" style="top:927.0px">98.000</div><div class="yl" style="top:1035.7px">96.000</div>
<div class="xl" style="left:62.4px">Sep</div><div class="xl" style="left:221.7px">Nov</div><div class="xl b" style="left:376.5px">2024</div><div class="xl" style="left:535.0px">Mar</div><div class="xl" style="left:690.3px">May</div><div class="xl" style="left:848.6px">Jul</div><div class="xl" style="left:1015.1px">Sep</div><div class="xl" style="left:1178.0px">Nov</div><div class="xl b" style="left:1332.9px">2025</div><div class="xl" style="left:1488.0px">Mar</div><div class="xl" style="left:1643.3px">May</div><div class="xl" style="left:1802.0px">Jul</div>
<div class="ma" style="left:1624px;top:481px;color:#1ec88a">MA 50</div>
<div class="ma" style="left:1701px;top:556px;color:#efdc2c">MA 200</div>
</body></html>
